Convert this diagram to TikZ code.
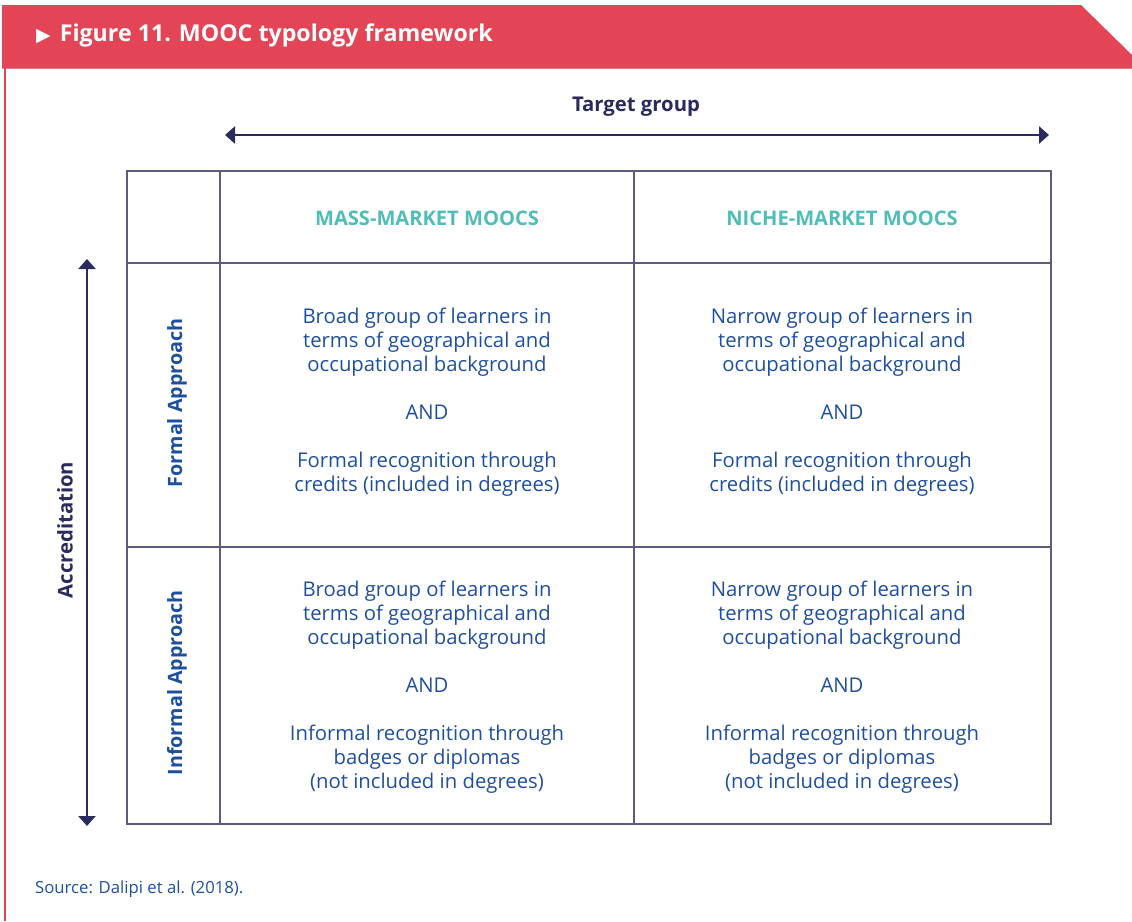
\documentclass[tikz,border=0pt]{standalone}
\usepackage{fontspec}
\setmainfont{Open Sans}
\newfontfamily\trifont{DejaVu Sans}
\usetikzlibrary{arrows.meta}
\definecolor{hdred}{HTML}{E34557}
\definecolor{navy}{HTML}{2B2A5C}
\definecolor{bodyblue}{HTML}{1E4F9E}
\definecolor{tealc}{HTML}{4FBDB8}
\definecolor{gridc}{HTML}{5C5B82}
\tikzset{
  cell/.style={align=center, text=bodyblue, font=\fontsize{20.3}{24}\selectfont, inner sep=0pt},
  colhead/.style={text=tealc, font=\fontsize{20.1}{22}\selectfont\bfseries, inner sep=0pt},
  rowhead/.style={text=bodyblue, font=\fontsize{19.7}{22}\selectfont\bfseries, rotate=90, inner sep=0pt},
  axislabel/.style={text=navy, font=\fontsize{20.3}{22}\selectfont\bfseries, inner sep=0pt},
  axis/.style={draw=navy, line width=2.8pt, {Triangle[width=17pt,length=10pt]}-{Triangle[width=17pt,length=10pt]}},
  grid/.style={draw=gridc, line width=1.1pt},
}
\begin{document}
\begin{tikzpicture}[x=1pt,y=-1pt]
\useasboundingbox (0,0) rectangle (1132,921);
% header
\fill[hdred] (2,5) -- (1081,5) -- (1132,55) -- (1132,68) -- (2,68) -- cycle;
\draw[hdred!70, line width=0.8pt] (2,68.5) -- (1132,68.5);
\draw[hdred, line width=1.8pt] (5,68) -- (5,921);
\node[anchor=west, text=white, font=\fontsize{23.2}{26}\selectfont\bfseries, inner sep=0pt] (title) at (36,35) {{\trifont\fontsize{19}{20}\selectfont ▶}\hspace{9pt}Figure 11. MOOC typology framework};
% axes
\node[axislabel] (tg) at (636,107) {Target group};
\coordinate (hl) at (225,135);
\coordinate (hr) at (1049,135);
\draw[axis] (hl) -- (hr);
\coordinate (vt) at (87,259);
\coordinate (vb) at (87,826);
\draw[axis] (vt) -- (vb);
\node[axislabel, rotate=90] (acc) at (65,530) {Accreditation};
% grid
\draw[grid] (127,171) rectangle (1051,824);
\draw[grid] (220,171) -- (220,824);
\draw[grid] (634,171) -- (634,824);
\draw[grid] (127,263) -- (1051,263);
\draw[grid] (127,547) -- (1051,547);
% headers
\node[colhead] (mass) at (427,218) {MASS-MARKET MOOCS};
\node[colhead] (niche) at (842,218) {NICHE-MARKET MOOCS};
\node[rowhead] (formal) at (177,403) {Formal Approach};
\node[rowhead] (informal) at (177,683) {Informal Approach};
% cells
\node[cell] (c11) at (427,402) {Broad group of learners in\\terms of geographical and\\occupational background\\[24pt]AND\\[24pt]Formal recognition through\\credits (included in degrees)};
\node[cell] (c12) at (842,402) {Narrow group of learners in\\terms of geographical and\\occupational background\\[24pt]AND\\[24pt]Formal recognition through\\credits (included in degrees)};
\node[cell] (c21) at (427,687) {Broad group of learners in\\terms of geographical and\\occupational background\\[24pt]AND\\[24pt]Informal recognition through\\badges or diplomas\\(not included in degrees)};
\node[cell] (c22) at (842,687) {Narrow group of learners in\\terms of geographical and\\occupational background\\[24pt]AND\\[24pt]Informal recognition through\\badges or diplomas\\(not included in degrees)};
% source
\node[anchor=west, text=bodyblue, font=\fontsize{16.7}{18}\selectfont, inner sep=0pt] (src) at (35,889) {Source: Dalipi et al. (2018).};
\end{tikzpicture}
\end{document}
